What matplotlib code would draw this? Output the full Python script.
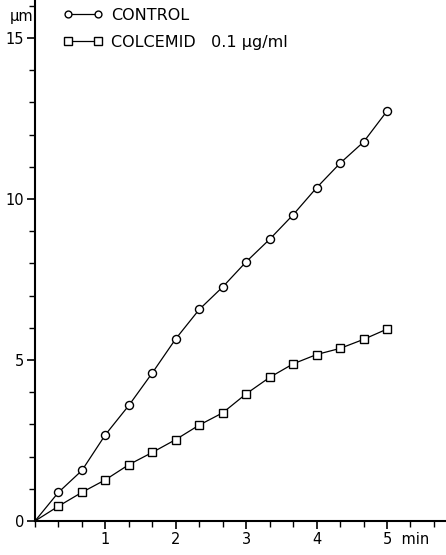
import numpy as np
import matplotlib
matplotlib.use('Agg')
import matplotlib.pyplot as plt
from matplotlib.ticker import MultipleLocator
import matplotlib.transforms as mtransforms

# time points (min), every 20 s
t = np.arange(16) / 3.0
control = [0, 0.89, 1.57, 2.68, 3.59, 4.60, 5.66, 6.57, 7.27, 8.05,
           8.75, 9.51, 10.35, 11.11, 11.77, 12.73]
colcemid = [0, 0.46, 0.89, 1.28, 1.75, 2.13, 2.53, 2.98, 3.36, 3.95,
            4.46, 4.88, 5.17, 5.36, 5.64, 5.96]

plt.rcParams['font.family'] = 'DejaVu Sans'

fig = plt.figure(figsize=(4.46, 5.55), dpi=100)
ax = fig.add_axes([35 / 446, 34 / 555, 411 / 446, 521 / 555])

# no marker at the origin
ax.plot(t, control, '-o', color='black', lw=0.9, ms=5.8, mfc='white',
        mec='black', mew=1.0, markevery=list(range(1, 16)),
        label='CONTROL', clip_on=False)
ax.plot(t, colcemid, '-s', color='black', lw=0.9, ms=6.3, mfc='white',
        mec='black', mew=1.0, markevery=list(range(1, 16)),
        label='COLCEMID   0.1 \u00b5g/ml', clip_on=False)

ax.set_xlim(0, 411 / 70.4)
ax.set_ylim(0, 521 / 32.2)

for s in ['top', 'right']:
    ax.spines[s].set_visible(False)
for s in ['left', 'bottom']:
    ax.spines[s].set_linewidth(1.5)

ax.set_xticks([1, 2, 3, 4, 5])
ax.set_xticklabels(['1', '2', '3', '4', '5  min'])
ax.xaxis.set_minor_locator(MultipleLocator(1 / 3))
ax.set_yticks([0, 5, 10, 15])
ax.yaxis.set_minor_locator(MultipleLocator(1))
ax.tick_params(axis='both', which='major', direction='out', length=6,
               width=1.2, labelsize=10.5)
ax.tick_params(axis='both', which='minor', direction='out', length=4,
               width=1.0)
ax.tick_params(axis='x', which='major', pad=2)
ax.tick_params(axis='y', which='major', pad=2)
# "5 min" label shifted so 5 stays under its tick
for lab in ax.get_xticklabels():
    if lab.get_text().startswith('5'):
        lab.set_horizontalalignment('left')
        lab.set_transform(lab.get_transform() + mtransforms.ScaledTranslation(-4 / 100, 0, fig.dpi_scale_trans))

fig.text(10 / 446, 1 - 16 / 555, '\u00b5m', fontsize=10.5, va='center', ha='left')

leg = ax.legend(loc='upper left', bbox_to_anchor=(28 / 411, 1 - 8 / 521),
                frameon=False, fontsize=11.5, numpoints=2, handlelength=2.5,
                markerscale=0.85, labelspacing=0.75, handletextpad=0.5,
                borderaxespad=0, borderpad=0)

fig.savefig('out.png', dpi=100)
